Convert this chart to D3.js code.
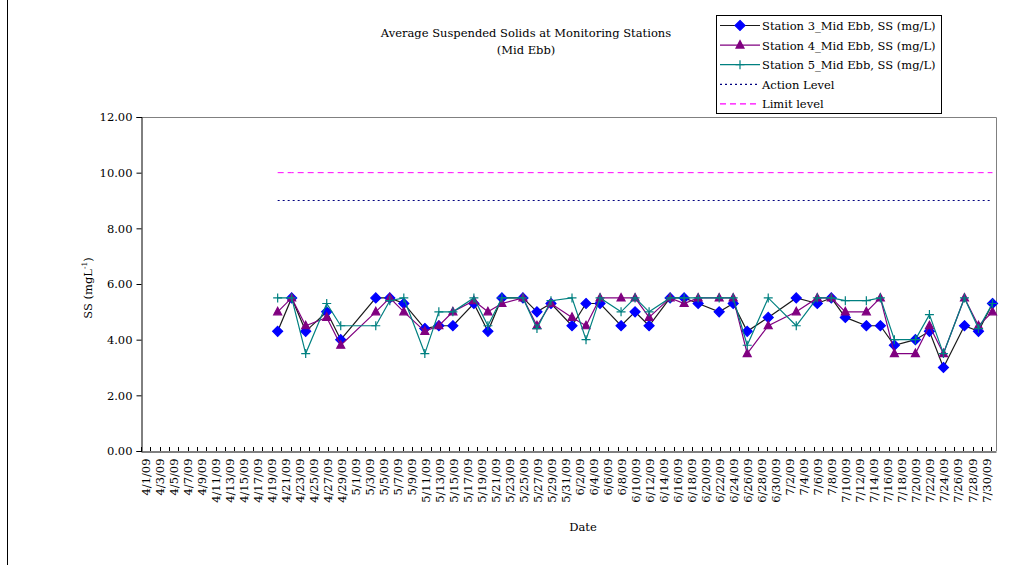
<!DOCTYPE html>
<html>
<head>
<meta charset="utf-8">
<script src="https://cdn.jsdelivr.net/npm/d3@7"></script>
<style>
  body { margin: 0; background: #fff; }
  svg text { font-family: "DejaVu Serif", "Liberation Serif", serif; fill: #000; }
</style>
</head>
<body>
<div id="chart"></div>
<script>
// sampling dates (Mon / Wed / Fri)
var sampleDates = ["4/20/09","4/22/09","4/24/09","4/27/09","4/29/09","5/4/09","5/6/09","5/8/09",
  "5/11/09","5/13/09","5/15/09","5/18/09","5/20/09","5/22/09","5/25/09","5/27/09","5/29/09",
  "6/1/09","6/3/09","6/5/09","6/8/09","6/10/09","6/12/09","6/15/09","6/17/09","6/19/09",
  "6/22/09","6/24/09","6/26/09","6/29/09","7/3/09","7/6/09","7/8/09","7/10/09","7/13/09",
  "7/15/09","7/17/09","7/20/09","7/22/09","7/24/09","7/27/09","7/29/09","7/31/09"];

var station3 = [4.3,5.5,4.3,5.0,4.0,5.5,5.5,5.3,4.4,4.5,4.5,5.3,4.3,5.5,5.5,5.0,5.3,4.5,5.3,5.3,
  4.5,5.0,4.5,5.5,5.5,5.3,5.0,5.3,4.3,4.8,5.5,5.3,5.5,4.8,4.5,4.5,3.8,4.0,4.3,3.0,4.5,4.3,5.3];
var station4 = [5.0,5.5,4.5,4.8,3.8,5.0,5.5,5.0,4.3,4.5,5.0,5.4,5.0,5.3,5.5,4.5,5.3,4.8,4.5,5.5,
  5.5,5.5,4.8,5.5,5.3,5.5,5.5,5.5,3.5,4.5,5.0,5.5,5.5,5.0,5.0,5.5,3.5,3.5,4.5,3.5,5.5,4.5,5.0];
var station5 = [5.5,5.5,3.5,5.3,4.5,4.5,5.4,5.5,3.5,5.0,5.0,5.5,4.5,5.5,5.5,4.4,5.4,5.5,4.0,5.5,
  5.0,5.5,5.0,5.5,5.5,5.5,5.5,5.5,3.8,5.5,4.5,5.5,5.5,5.4,5.4,5.5,4.0,4.0,4.9,3.5,5.5,4.4,5.3];
var actionLevel = 9;
var limitLevel = 10;

var yTicks = [0, 2, 4, 6, 8, 10, 12];
var seriesNames = ["Station 3_Mid Ebb, SS (mg/L)", "Station 4_Mid Ebb, SS (mg/L)",
  "Station 5_Mid Ebb, SS (mg/L)", "Action Level", "Limit level"];

var fmt = d3.timeFormat("%-m/%-d/%y");
// every day on the category axis, 4/1/09 .. 7/31/09
var allDays = d3.timeDay.range(new Date(2009, 3, 1), new Date(2009, 7, 1)).map(fmt);

var W = 1034, H = 565;
var plot = {left: 141, top: 117, right: 996, bottom: 451};
var fs = "11.5px";

var svg = d3.select("#chart").append("svg")
  .attr("width", W).attr("height", H);

// chart-area border (left edge visible)
svg.append("line")
  .attr("x1", 7.5).attr("x2", 7.5).attr("y1", 0).attr("y2", H)
  .attr("stroke", "#000").attr("stroke-width", 1);

var x = d3.scaleBand().domain(allDays).range([plot.left, plot.right]).padding(0);
var y = d3.scaleLinear().domain([0, 12]).range([plot.bottom, plot.top]);
var cx = d => x(d) + x.bandwidth() / 2;

// plot border
svg.append("path")
  .attr("d", "M" + plot.left + "," + (plot.top + 0.5) + "H" + (plot.right + 0.5) + "V" + plot.bottom)
  .attr("fill", "none").attr("stroke", "#808080").attr("stroke-width", 1);

// y axis
var yAxis = svg.append("g")
  .attr("transform", "translate(" + (plot.left + 0.5) + ",0)")
  .call(d3.axisLeft(y).tickValues(yTicks).tickFormat(d3.format(".2f")).tickSize(5).tickPadding(4));
yAxis.select(".domain").attr("stroke", "#000");
yAxis.selectAll("text").style("font-size", fs).style("font-family", "DejaVu Serif, serif");

// x axis
var xAxis = svg.append("g")
  .attr("transform", "translate(0," + (plot.bottom + 0.5) + ")")
  .call(d3.axisBottom(x).tickValues(allDays.filter((d, i) => i % 2 === 0)).tickSize(0).tickPadding(0));
xAxis.select(".domain").attr("stroke", "#000");
xAxis.selectAll("text")
  .attr("transform", "rotate(-90)")
  .attr("x", -7).attr("y", 1).attr("dy", "0.35em")
  .style("text-anchor", "end")
  .style("font-size", fs).style("font-family", "DejaVu Serif, serif");
// inner tick marks
var tickLin = d3.scaleLinear().domain([0, allDays.length]).range([plot.left, plot.right]);
svg.append("g").selectAll("line")
  .data(d3.range(0, allDays.length + 0.01, 4 / 3))
  .enter().append("line")
  .attr("x1", d => Math.round(tickLin(d)) + 0.5).attr("x2", d => Math.round(tickLin(d)) + 0.5)
  .attr("y1", plot.bottom - 4).attr("y2", plot.bottom)
  .attr("stroke", "#000");

// title
svg.append("text").attr("x", 526).attr("y", 37).attr("text-anchor", "middle")
  .style("font-size", fs).text("Average Suspended Solids at Monitoring Stations");
svg.append("text").attr("x", 526).attr("y", 54).attr("text-anchor", "middle")
  .style("font-size", fs).text("(Mid Ebb)");

// axis titles
svg.append("text").attr("x", 583).attr("y", 531).attr("text-anchor", "middle")
  .style("font-size", fs).text("Date");
var yl = svg.append("text")
  .attr("transform", "translate(92,288) rotate(-90)")
  .attr("text-anchor", "middle").style("font-size", fs);
yl.append("tspan").text("SS (mgL");
yl.append("tspan").attr("dy", -5).style("font-size", "7.5px").text("-1");
yl.append("tspan").attr("dy", 5).text(")");

// reference levels
var line = d3.line().x(d => cx(d.date)).y(d => y(d.v));
svg.append("path")
  .datum(sampleDates.map(d => ({date: d, v: limitLevel})))
  .attr("d", line).attr("fill", "none")
  .attr("stroke", "#ff00ff").attr("stroke-width", 1).attr("stroke-dasharray", "6,4");
svg.append("path")
  .datum(sampleDates.map(d => ({date: d, v: actionLevel})))
  .attr("d", line).attr("fill", "none")
  .attr("stroke", "#000080").attr("stroke-width", 1.2).attr("stroke-dasharray", "2,3");

// marker shapes
var diamond = "M0,-5L5,0L0,5L-5,0Z";
var triangle = "M0,-4.5L4,3L-4,3Z";
var plus = "M-4.5,0H4.5M0,-4.5V4.5";

var series = [
  {values: station3, line: "#1a1a1a", marker: diamond, mfill: "#0000ff", mstroke: "#0000ff"},
  {values: station4, line: "#800080", marker: triangle, mfill: "#800080", mstroke: "#800080"},
  {values: station5, line: "#008080", marker: plus, mfill: "none", mstroke: "#008080"}
];

series.forEach(function(s) {
  var pts = sampleDates.map((d, i) => ({date: d, v: s.values[i]}));
  svg.append("path").datum(pts).attr("d", line)
    .attr("fill", "none").attr("stroke", s.line).attr("stroke-width", 1.2);
  svg.append("g").selectAll("path").data(pts).enter().append("path")
    .attr("transform", d => "translate(" + cx(d.date) + "," + y(d.v) + ")")
    .attr("d", s.marker)
    .attr("fill", s.mfill).attr("stroke", s.mstroke).attr("stroke-width", 1.2);
});

// legend
var legend = svg.append("g");
legend.append("rect").attr("x", 716.5).attr("y", 15.5).attr("width", 225).attr("height", 98)
  .attr("fill", "#fff").attr("stroke", "#000").attr("stroke-width", 1);
var legendItems = [
  {name: seriesNames[0], color: "#1a1a1a", marker: diamond, mfill: "#0000ff", mstroke: "#0000ff", dash: null},
  {name: seriesNames[1], color: "#800080", marker: triangle, mfill: "#800080", mstroke: "#800080", dash: null},
  {name: seriesNames[2], color: "#008080", marker: plus, mfill: "none", mstroke: "#008080", dash: null},
  {name: seriesNames[3], color: "#000080", marker: null, dash: "2,3"},
  {name: seriesNames[4], color: "#ff00ff", marker: null, dash: "6,4"}
];
legendItems.forEach(function(it, i) {
  var ly = 25.5 + i * 19.6;
  legend.append("line").attr("x1", 720).attr("x2", 760).attr("y1", ly).attr("y2", ly)
    .attr("stroke", it.color).attr("stroke-width", 1.2)
    .attr("stroke-dasharray", it.dash);
  if (it.marker) {
    legend.append("path").attr("transform", "translate(740," + ly + ")")
      .attr("d", it.marker).attr("fill", it.mfill).attr("stroke", it.mstroke).attr("stroke-width", 1.2);
  }
  legend.append("text").attr("x", 762).attr("y", ly + 4.5)
    .style("font-size", fs).text(it.name);
});
</script>
</body>
</html>
